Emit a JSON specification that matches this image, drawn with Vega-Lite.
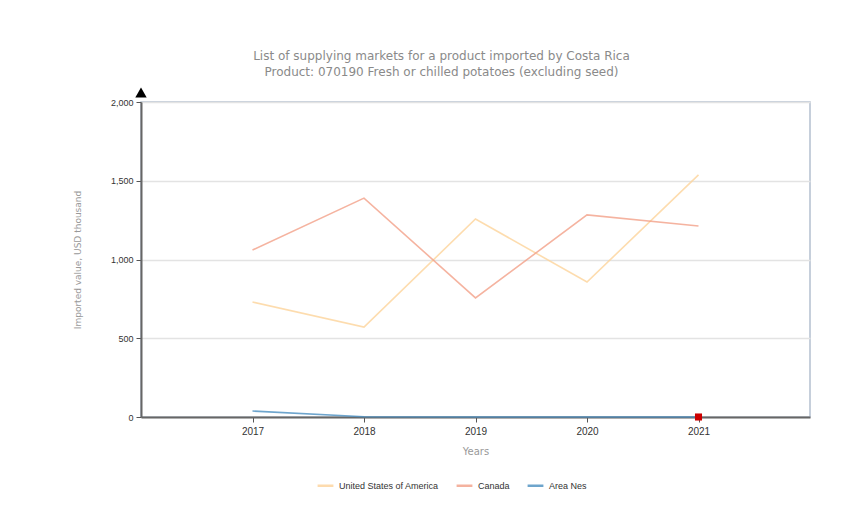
{
  "$schema": "https://vega.github.io/schema/vega-lite/v6.json",
  "autosize": "none",
  "width": 669,
  "height": 315,
  "padding": {"left": 141, "top": 102, "right": 49, "bottom": 97},
  "background": "#ffffff",
  "config": {
    "view": {"stroke": "#b4c0d0", "strokeWidth": 1.5},
    "font": "DejaVu Sans"
  },
  "title": {
    "text": ["List of supplying markets for a product imported by Costa Rica", "Product: 070190 Fresh or chilled potatoes (excluding seed)"],
    "font": "DejaVu Sans",
    "fontSize": 12,
    "fontWeight": "normal",
    "color": "#8a8a8a",
    "anchor": "middle",
    "dx": -34,
    "offset": 9,
    "lineHeight": 16
  },
  "datasets": {
    "imports": [
      {"Year": 2017, "Market": "United States of America", "Value": 730},
      {"Year": 2018, "Market": "United States of America", "Value": 571},
      {"Year": 2019, "Market": "United States of America", "Value": 1257},
      {"Year": 2020, "Market": "United States of America", "Value": 857},
      {"Year": 2021, "Market": "United States of America", "Value": 1537},
      {"Year": 2017, "Market": "Canada", "Value": 1060},
      {"Year": 2018, "Market": "Canada", "Value": 1390},
      {"Year": 2019, "Market": "Canada", "Value": 756},
      {"Year": 2020, "Market": "Canada", "Value": 1283},
      {"Year": 2021, "Market": "Canada", "Value": 1213},
      {"Year": 2017, "Market": "Area Nes", "Value": 38},
      {"Year": 2018, "Market": "Area Nes", "Value": 2},
      {"Year": 2019, "Market": "Area Nes", "Value": 0},
      {"Year": 2020, "Market": "Area Nes", "Value": 0},
      {"Year": 2021, "Market": "Area Nes", "Value": 0}
    ],
    "marker": [{"Year": 2021, "Value": 0}]
  },
  "layer": [
    {
      "data": {"name": "imports"},
      "mark": {"type": "line", "strokeWidth": 1.6, "opacity": 0.8},
      "encoding": {
        "x": {
          "field": "Year", "type": "quantitative",
          "scale": {"domain": [2016, 2022], "nice": false, "zero": false},
          "axis": {
            "title": "Years", "values": [2017, 2018, 2019, 2020, 2021], "format": "d",
            "grid": false, "domainColor": "#666666", "domainWidth": 2,
            "tickColor": "#555555", "tickSize": 5, "tickOffset": 0,
            "labelFont": "Liberation Sans", "labelFontSize": 10, "labelColor": "#333333",
            "labelPadding": 4,
            "titleFont": "DejaVu Sans", "titleFontSize": 10, "titleFontWeight": "normal",
            "titleColor": "#999999", "titlePadding": 10
          }
        },
        "y": {
          "field": "Value", "type": "quantitative",
          "scale": {"domain": [0, 2000], "nice": false},
          "axis": {
            "title": "Imported value, USD thousand", "values": [0, 500, 1000, 1500, 2000], "format": ",d",
            "grid": true, "gridColor": "#e3e3e3", "gridWidth": 1.5,
            "domainColor": "#666666", "domainWidth": 2,
            "tickColor": "#555555", "tickSize": 5,
            "labelFont": "Liberation Sans", "labelFontSize": 9, "labelColor": "#333333",
            "labelPadding": 3,
            "titleFont": "DejaVu Sans", "titleFontSize": 9, "titleFontWeight": "normal",
            "titleColor": "#999999", "titlePadding": 28
          }
        },
        "color": {
          "field": "Market", "type": "nominal",
          "scale": {
            "domain": ["United States of America", "Canada", "Area Nes"],
            "range": ["#fdd39a", "#f2a088", "#4a8fc0"]
          },
          "legend": {
            "title": null, "orient": "none", "direction": "horizontal",
            "legendX": 175, "legendY": 374,
            "symbolType": "stroke", "symbolStrokeWidth": 2.5, "symbolSize": 250,
            "labelFont": "Liberation Sans", "labelFontSize": 9, "labelColor": "#333333",
            "columnPadding": 12
          }
        }
      }
    },
    {
      "data": {"name": "marker"},
      "mark": {"type": "point", "shape": "square", "filled": true, "color": "#cc0000", "size": 50, "opacity": 1},
      "encoding": {"x": {"field": "Year", "type": "quantitative"}, "y": {"field": "Value", "type": "quantitative"}}
    },
    {
      "data": {"values": [{}]},
      "mark": {"type": "point", "shape": "triangle-up", "filled": true, "color": "#000000", "size": 130, "opacity": 1},
      "encoding": {"x": {"datum": 2016, "type": "quantitative"}, "y": {"datum": 2060, "type": "quantitative"}}
    }
  ]
}
